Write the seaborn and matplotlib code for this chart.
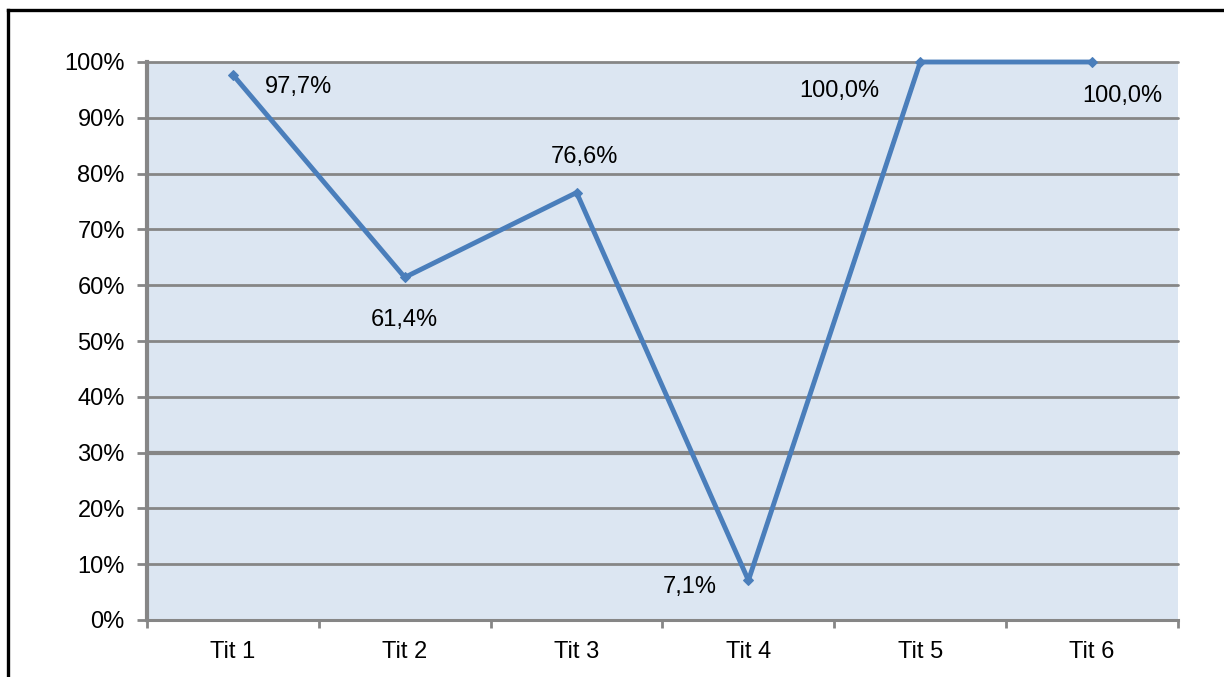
import matplotlib
matplotlib.use("Agg")
import matplotlib.pyplot as plt
from matplotlib.lines import Line2D
from matplotlib.ticker import FixedLocator, NullFormatter
import seaborn as sns
import pandas as pd

categories = ["Tit 1", "Tit 2", "Tit 3", "Tit 4", "Tit 5", "Tit 6"]
values = [97.7, 61.4, 76.6, 7.1, 100.0, 100.0]
value_labels = ["97,7%", "61,4%", "76,6%", "7,1%", "100,0%", "100,0%"]
y_ticks = [0, 10, 20, 30, 40, 50, 60, 70, 80, 90, 100]
y_tick_labels = [f"{v}%" for v in y_ticks]

# label placement around each point (pixels)
label_offsets = [(66, -12), (0, -43), (8, 36), (-59, -7), (-81, -29), (30, -34)]

sns.set_style("white")
plt.rcParams["font.family"] = ["Liberation Sans", "DejaVu Sans"]
plt.rcParams["text.color"] = "black"
plt.rcParams["xtick.color"] = "black"
plt.rcParams["ytick.color"] = "black"

grid_col = "#868686"
line_col = "#4a7ebb"
bg_col = "#dce6f2"
fs = 17

fig = plt.figure(figsize=(12.24, 6.77), dpi=100)
ax = fig.add_axes([147 / 1224, 57 / 677, (1178 - 147) / 1224, (620 - 62) / 677])
ax.set_facecolor(bg_col)

df = pd.DataFrame({"pos": range(len(categories)), "value": values})
sns.lineplot(data=df, x="pos", y="value", ax=ax, color=line_col, linewidth=3.5,
             marker="D", markersize=5, markeredgecolor=line_col, zorder=5)
for ln in ax.lines:
    ln.set_clip_on(False)

ax.set_xlim(-0.5, len(categories) - 0.5)
ax.set_ylim(0, 100)

# horizontal gridlines, the 30% line drawn heavier
for v in y_ticks[1:]:
    ax.axhline(v, color=grid_col, linewidth=3.0 if v == 30 else 2.0, zorder=1,
               clip_on=False)

# y axis
ax.set_yticks(y_ticks)
ax.set_yticklabels(y_tick_labels, fontsize=fs)
ax.tick_params(axis="y", direction="out", length=7, width=2, color=grid_col, pad=9,
               left=True, labelcolor="black")

# x axis: tick marks on category boundaries, labels centred on categories
ax.xaxis.set_major_locator(FixedLocator([i - 0.5 for i in range(len(categories) + 1)]))
ax.xaxis.set_major_formatter(NullFormatter())
ax.xaxis.set_minor_locator(FixedLocator(list(range(len(categories)))))
ax.set_xticklabels(categories, minor=True, fontsize=fs)
ax.tick_params(axis="x", which="major", direction="out", length=6, width=2, color=grid_col,
               bottom=True)
ax.tick_params(axis="x", which="minor", length=0, pad=15, labelcolor="black")
ax.set_xlabel("")
ax.set_ylabel("")

for side in ["top", "right"]:
    ax.spines[side].set_visible(False)
ax.spines["left"].set_color(grid_col)
ax.spines["left"].set_linewidth(3)
ax.spines["bottom"].set_color(grid_col)
ax.spines["bottom"].set_linewidth(2.2)

for i, (v, lab) in enumerate(zip(values, value_labels)):
    ax.annotate(lab, (i, v), xytext=label_offsets[i], textcoords="offset pixels",
                ha="center", va="center", fontsize=fs, color="black", zorder=6)

# outer chart frame (left and top edges)
x0 = 7.5 / 1224
y0 = (677 - 9.5) / 677
fig.add_artist(Line2D([x0, x0], [-0.01, y0], transform=fig.transFigure,
                      color="black", linewidth=2.4, solid_capstyle="projecting"))
fig.add_artist(Line2D([x0, 1.01], [y0, y0], transform=fig.transFigure,
                      color="black", linewidth=2.4, solid_capstyle="projecting"))

fig.savefig("out.png", dpi=100)
